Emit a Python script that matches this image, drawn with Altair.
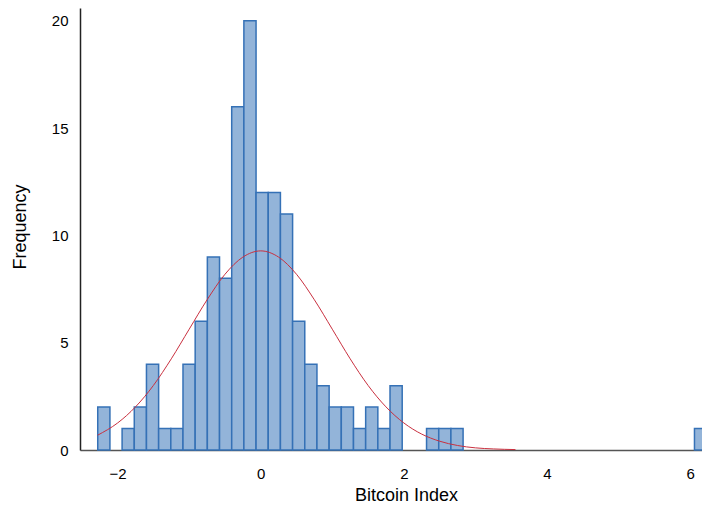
import altair as alt
import pandas as pd

# Histogram of Bitcoin Index
bin_start = -2.278
bin_width = 0.1702
counts = [2, 0, 1, 2, 4, 1, 1, 4, 6, 9,
          8, 16, 20, 12, 12, 11, 6, 4, 3, 2,
          2, 1, 2, 1, 3, 0, 0, 1, 1, 1,
          0, 0, 0, 0, 0, 0, 0, 0, 0, 0,
          0, 0, 0, 0, 0, 0, 0, 0, 0, 1]

# Normal curve overlay
curve_x = [-2.28, -2.0, -1.75, -1.5, -1.25, -1.0, -0.75, -0.5, -0.25, 0.0,
           0.25, 0.5, 0.75, 1.0, 1.25, 1.5, 1.75, 2.0, 2.25, 2.5,
           2.75, 3.0, 3.25, 3.56]
curve_y = [0.69, 1.26, 2.01, 3.01, 4.25, 5.63, 7.00, 8.19, 8.99, 9.28,
           8.99, 8.19, 7.00, 5.63, 4.25, 3.01, 2.01, 1.26, 0.74, 0.41,
           0.21, 0.10, 0.05, 0.02]

x_ticks = [-2, 0, 2, 4, 6]
y_ticks = [0, 5, 10, 15, 20]

bars = pd.DataFrame({
    "lo": [bin_start + i * bin_width for i in range(len(counts))],
    "hi": [bin_start + (i + 1) * bin_width for i in range(len(counts))],
    "count": counts,
})
bars = bars[bars["count"] > 0]
curve = pd.DataFrame({"x": curve_x, "y": curve_y})

FONT = "Liberation Sans"
xscale = alt.Scale(domain=[-2.526, 6.167], nice=False, zero=False)
yscale = alt.Scale(domain=[0, 20.6], nice=False)

xaxis = alt.Axis(values=x_ticks, format="d", title="Bitcoin Index", grid=False, ticks=False, tickSize=0,
                 labelFont=FONT, labelFontSize=15, labelColor="#000", labelPadding=16,
                 labelFlush=False, labelBound=False, labelOverlap=False,
                 titleFont=FONT, titleFontSize=18, titleFontWeight="normal", titleColor="#000",
                 titleX=326, titleY=45, titleBaseline="middle", titleAlign="center",
                 domainColor="#555", domainWidth=1.5)
yaxis = alt.Axis(values=y_ticks, format="d", title="Frequency", grid=False, ticks=False, tickSize=0,
                 labelFont=FONT, labelFontSize=15, labelColor="#000", labelPadding=12,
                 labelFlush=False, labelOverlap=False,
                 titleFont=FONT, titleFontSize=18, titleFontWeight="normal", titleColor="#000",
                 titleX=-60, titleY=218.5, titleBaseline="middle", titleAlign="center",
                 domainColor="#222", domainWidth=1.5)

hist = alt.Chart(bars).mark_rect(
    fill="#93b4d9", stroke="#3571b6", strokeWidth=1.5
).encode(
    x=alt.X("lo:Q", scale=xscale, axis=xaxis),
    x2="hi:Q",
    y=alt.Y("count:Q", scale=yscale, axis=yaxis),
    y2=alt.datum(0),
)

line = alt.Chart(curve).mark_line(
    color="#c9303f", strokeWidth=1, interpolate="monotone"
).encode(
    x=alt.X("x:Q", scale=xscale),
    y=alt.Y("y:Q", scale=yscale),
)

chart = (hist + line).properties(
    width=622, height=442,
    autosize=alt.AutoSizeParams(type="none"),
    padding={"left": 72, "top": 0, "right": 0, "bottom": 54},
    background="white",
).configure_view(stroke=None)

chart.save("out.html", embed_options={"renderer": "svg", "actions": False})
